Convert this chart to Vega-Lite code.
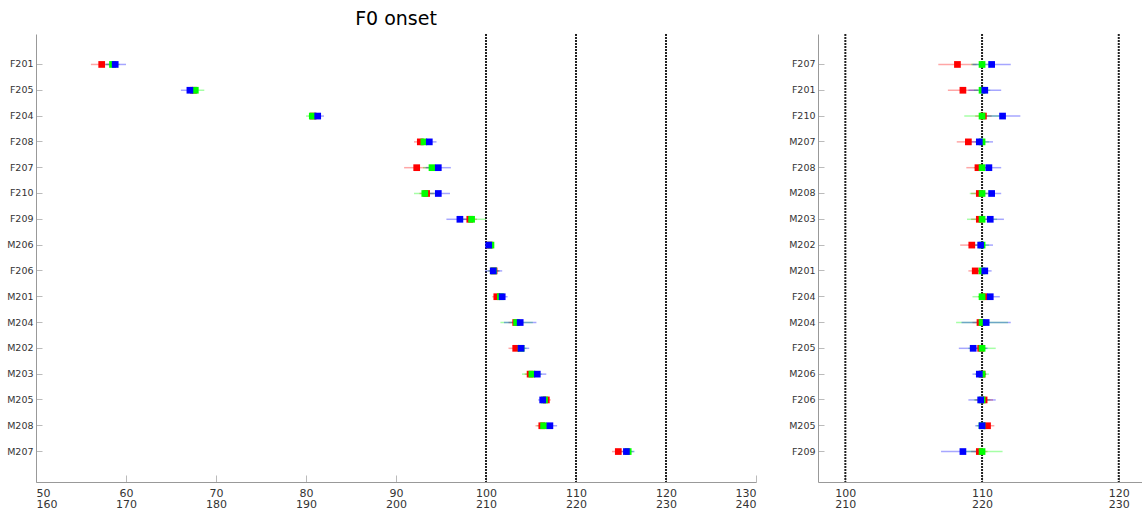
{
  "$schema": "https://vega.github.io/schema/vega-lite/v6.json",
  "background": "white",
  "padding": {"left": 6, "top": 10, "right": 0, "bottom": 0},
  "spacing": 62,
  "bounds": "flush",
  "config": {
    "view": {"stroke": null},
    "font": "DejaVu Sans",
    "axis": {
      "domainColor": "#999999",
      "tickColor": "#bbbbbb",
      "labelColor": "#333333",
      "labelFont": "DejaVu Sans",
      "labelFontSize": 9.5,
      "grid": false,
      "title": null
    }
  },
  "datasets": {
    "left": [
      {"spk": "F201", "s": "r", "v": 57.3, "lo": 56.1, "hi": 58.3},
      {"spk": "F201", "s": "g", "v": 58.5, "lo": 57.8, "hi": 59.3},
      {"spk": "F201", "s": "b", "v": 58.8, "lo": 57.7, "hi": 60.0},
      {"spk": "F205", "s": "r", "v": 67.5, "lo": 67.0, "hi": 68.0},
      {"spk": "F205", "s": "g", "v": 67.7, "lo": 66.8, "hi": 68.7},
      {"spk": "F205", "s": "b", "v": 67.1, "lo": 66.1, "hi": 67.9},
      {"spk": "F204", "s": "r", "v": 80.8, "lo": 80.3, "hi": 81.3},
      {"spk": "F204", "s": "g", "v": 80.7, "lo": 80.0, "hi": 81.4},
      {"spk": "F204", "s": "b", "v": 81.3, "lo": 80.6, "hi": 82.0},
      {"spk": "F208", "s": "r", "v": 92.7, "lo": 92.0, "hi": 93.4},
      {"spk": "F208", "s": "g", "v": 93.1, "lo": 92.4, "hi": 93.8},
      {"spk": "F208", "s": "b", "v": 93.7, "lo": 92.9, "hi": 94.5},
      {"spk": "F207", "s": "r", "v": 92.3, "lo": 90.9, "hi": 93.7},
      {"spk": "F207", "s": "g", "v": 94.0, "lo": 93.0, "hi": 95.0},
      {"spk": "F207", "s": "b", "v": 94.7, "lo": 93.3, "hi": 96.1},
      {"spk": "F210", "s": "r", "v": 93.4, "lo": 92.6, "hi": 94.2},
      {"spk": "F210", "s": "g", "v": 93.2, "lo": 92.0, "hi": 94.4},
      {"spk": "F210", "s": "b", "v": 94.7, "lo": 93.4, "hi": 96.0},
      {"spk": "F209", "s": "r", "v": 98.2, "lo": 97.4, "hi": 99.0},
      {"spk": "F209", "s": "g", "v": 98.4, "lo": 96.8, "hi": 100.0},
      {"spk": "F209", "s": "b", "v": 97.1, "lo": 95.6, "hi": 98.6},
      {"spk": "M206", "s": "r", "v": 100.4, "lo": 100.0, "hi": 100.8},
      {"spk": "M206", "s": "g", "v": 100.55, "lo": 100.2, "hi": 100.9},
      {"spk": "M206", "s": "b", "v": 100.3, "lo": 99.9, "hi": 100.7},
      {"spk": "F206", "s": "r", "v": 100.9, "lo": 100.3, "hi": 101.5},
      {"spk": "F206", "s": "g", "v": 100.85, "lo": 100.2, "hi": 101.5},
      {"spk": "F206", "s": "b", "v": 100.8, "lo": 99.9, "hi": 101.8},
      {"spk": "M201", "s": "r", "v": 101.2, "lo": 100.7, "hi": 101.7},
      {"spk": "M201", "s": "g", "v": 101.6, "lo": 101.1, "hi": 102.1},
      {"spk": "M201", "s": "b", "v": 101.8, "lo": 101.2, "hi": 102.4},
      {"spk": "M204", "s": "r", "v": 103.3, "lo": 102.5, "hi": 104.1},
      {"spk": "M204", "s": "g", "v": 103.4, "lo": 101.6, "hi": 105.2},
      {"spk": "M204", "s": "b", "v": 103.8, "lo": 102.0, "hi": 105.6},
      {"spk": "M202", "s": "r", "v": 103.3, "lo": 102.5, "hi": 104.1},
      {"spk": "M202", "s": "g", "v": 103.9, "lo": 103.3, "hi": 104.5},
      {"spk": "M202", "s": "b", "v": 103.9, "lo": 103.0, "hi": 104.8},
      {"spk": "M203", "s": "r", "v": 104.9, "lo": 104.3, "hi": 105.5},
      {"spk": "M203", "s": "g", "v": 105.1, "lo": 104.0, "hi": 106.2},
      {"spk": "M203", "s": "b", "v": 105.7, "lo": 104.7, "hi": 106.7},
      {"spk": "M205", "s": "r", "v": 106.7, "lo": 106.2, "hi": 107.2},
      {"spk": "M205", "s": "g", "v": 106.5, "lo": 106.0, "hi": 107.0},
      {"spk": "M205", "s": "b", "v": 106.3, "lo": 105.8, "hi": 106.8},
      {"spk": "M208", "s": "r", "v": 106.2, "lo": 105.5, "hi": 106.9},
      {"spk": "M208", "s": "g", "v": 106.4, "lo": 105.7, "hi": 107.1},
      {"spk": "M208", "s": "b", "v": 107.1, "lo": 106.3, "hi": 107.9},
      {"spk": "M207", "s": "r", "v": 114.7, "lo": 114.0, "hi": 115.4},
      {"spk": "M207", "s": "g", "v": 115.8, "lo": 115.2, "hi": 116.4},
      {"spk": "M207", "s": "b", "v": 115.6, "lo": 114.7, "hi": 116.5}
    ],
    "right": [
      {"spk": "F207", "s": "r", "v": 108.2, "lo": 106.8, "hi": 109.6},
      {"spk": "F207", "s": "g", "v": 110.0, "lo": 109.2, "hi": 110.8},
      {"spk": "F207", "s": "b", "v": 110.7, "lo": 109.3, "hi": 112.1},
      {"spk": "F201", "s": "r", "v": 108.6, "lo": 107.5, "hi": 109.7},
      {"spk": "F201", "s": "g", "v": 110.0, "lo": 109.4, "hi": 110.6},
      {"spk": "F201", "s": "b", "v": 110.2, "lo": 109.0, "hi": 111.4},
      {"spk": "F210", "s": "r", "v": 110.1, "lo": 109.5, "hi": 110.7},
      {"spk": "F210", "s": "g", "v": 110.0, "lo": 108.7, "hi": 111.3},
      {"spk": "F210", "s": "b", "v": 111.5, "lo": 110.2, "hi": 112.8},
      {"spk": "M207", "s": "r", "v": 109.0, "lo": 108.15, "hi": 109.85},
      {"spk": "M207", "s": "g", "v": 110.0, "lo": 109.5, "hi": 110.5},
      {"spk": "M207", "s": "b", "v": 109.8, "lo": 108.8, "hi": 110.8},
      {"spk": "F208", "s": "r", "v": 109.7, "lo": 108.85, "hi": 110.55},
      {"spk": "F208", "s": "g", "v": 110.0, "lo": 109.4, "hi": 110.6},
      {"spk": "F208", "s": "b", "v": 110.5, "lo": 109.6, "hi": 111.4},
      {"spk": "M208", "s": "r", "v": 109.8, "lo": 109.2, "hi": 110.4},
      {"spk": "M208", "s": "g", "v": 110.0, "lo": 109.1, "hi": 110.9},
      {"spk": "M208", "s": "b", "v": 110.7, "lo": 109.9, "hi": 111.4},
      {"spk": "M203", "s": "r", "v": 109.8, "lo": 109.2, "hi": 110.4},
      {"spk": "M203", "s": "g", "v": 110.0, "lo": 108.9, "hi": 111.1},
      {"spk": "M203", "s": "b", "v": 110.6, "lo": 109.6, "hi": 111.6},
      {"spk": "M202", "s": "r", "v": 109.25, "lo": 108.4, "hi": 110.1},
      {"spk": "M202", "s": "g", "v": 110.0, "lo": 109.5, "hi": 110.5},
      {"spk": "M202", "s": "b", "v": 109.9, "lo": 109.0, "hi": 110.8},
      {"spk": "M201", "s": "r", "v": 109.5, "lo": 109.0, "hi": 110.0},
      {"spk": "M201", "s": "g", "v": 110.0, "lo": 109.6, "hi": 110.4},
      {"spk": "M201", "s": "b", "v": 110.2, "lo": 109.7, "hi": 110.7},
      {"spk": "F204", "s": "r", "v": 110.15, "lo": 109.7, "hi": 110.6},
      {"spk": "F204", "s": "g", "v": 110.0, "lo": 109.3, "hi": 110.7},
      {"spk": "F204", "s": "b", "v": 110.6, "lo": 109.9, "hi": 111.3},
      {"spk": "M204", "s": "r", "v": 109.85, "lo": 109.3, "hi": 110.4},
      {"spk": "M204", "s": "g", "v": 110.0, "lo": 108.1, "hi": 111.9},
      {"spk": "M204", "s": "b", "v": 110.3, "lo": 108.5, "hi": 112.1},
      {"spk": "F205", "s": "r", "v": 109.9, "lo": 109.5, "hi": 110.3},
      {"spk": "F205", "s": "g", "v": 110.0, "lo": 109.0, "hi": 111.0},
      {"spk": "F205", "s": "b", "v": 109.35, "lo": 108.3, "hi": 110.4},
      {"spk": "M206", "s": "r", "v": 110.0, "lo": 109.7, "hi": 110.3},
      {"spk": "M206", "s": "g", "v": 110.0, "lo": 109.5, "hi": 110.5},
      {"spk": "M206", "s": "b", "v": 109.8, "lo": 109.3, "hi": 110.3},
      {"spk": "F206", "s": "r", "v": 110.15, "lo": 109.5, "hi": 110.8},
      {"spk": "F206", "s": "g", "v": 110.0, "lo": 109.4, "hi": 110.6},
      {"spk": "F206", "s": "b", "v": 109.9, "lo": 109.0, "hi": 111.0},
      {"spk": "M205", "s": "r", "v": 110.4, "lo": 109.9, "hi": 110.9},
      {"spk": "M205", "s": "g", "v": 110.0, "lo": 109.6, "hi": 110.4},
      {"spk": "M205", "s": "b", "v": 110.0, "lo": 109.5, "hi": 110.5},
      {"spk": "F209", "s": "r", "v": 109.8, "lo": 109.2, "hi": 110.4},
      {"spk": "F209", "s": "g", "v": 110.0, "lo": 108.5, "hi": 111.5},
      {"spk": "F209", "s": "b", "v": 108.6, "lo": 107.0, "hi": 110.2}
    ],
    "refs": [{"x": 100}, {"x": 110}, {"x": 120}]
  },
  "hconcat": [
    {
      "width": 720,
      "height": 448,
      "title": {"text": "F0 onset", "fontSize": 19, "fontWeight": "normal", "color": "black", "font": "DejaVu Sans", "offset": 4},
      "layer": [
        {
          "data": {"name": "refs"},
          "mark": {"type": "rule", "strokeDash": [2, 1], "strokeWidth": 2, "color": "#222222"},
          "encoding": {
            "x": {"field": "x", "type": "quantitative", "scale": {"domain": [50, 130], "nice": false, "zero": false},
              "axis": {"values": [50, 60, 70, 80, 90, 100, 110, 120, 130], "tickSize": -7, "labelPadding": 12, "labelExpr": "[datum.label, '' + (datum.value + 110)]", "labelLineHeight": 11, "labelFontSize": 11, "labelColor": "#333333"}}
          }
        },
        {
          "data": {"name": "left"},
          "mark": {"type": "rule", "strokeWidth": 1.5, "opacity": 0.35},
          "encoding": {
            "y": {"field": "spk", "type": "nominal", "scale": {"type": "band", "paddingInner": 0, "paddingOuter": 0.68, "domain": ["F201","F205","F204","F208","F207","F210","F209","M206","F206","M201","M204","M202","M203","M205","M208","M207"]}, "axis": {"tickSize": -6, "labelPadding": 9}},
            "x": {"field": "lo", "type": "quantitative"},
            "x2": {"field": "hi"},
            "color": {"field": "s", "type": "nominal", "scale": {"domain": ["r", "g", "b"], "range": ["#ff0000", "#00ff00", "#0000ff"]}, "legend": null}
          }
        },
        {
          "data": {"name": "left"},
          "mark": {"type": "point", "shape": "square", "filled": true, "size": 45, "opacity": 1},
          "encoding": {
            "y": {"field": "spk", "type": "nominal"},
            "x": {"field": "v", "type": "quantitative"},
            "color": {"field": "s", "type": "nominal", "legend": null}
          }
        }
      ]
    },
    {
      "width": 324,
      "height": 448,
      "layer": [
        {
          "data": {"name": "refs"},
          "mark": {"type": "rule", "strokeDash": [2, 1], "strokeWidth": 2, "color": "#222222"},
          "encoding": {
            "x": {"field": "x", "type": "quantitative", "scale": {"domain": [98, 121.7], "nice": false, "zero": false},
              "axis": {"values": [100, 110, 120], "tickSize": -7, "labelPadding": 12, "labelExpr": "[datum.label, '' + (datum.value + 110)]", "labelLineHeight": 11, "labelFontSize": 11, "labelColor": "#333333"}}
          }
        },
        {
          "data": {"name": "right"},
          "mark": {"type": "rule", "strokeWidth": 1.5, "opacity": 0.35},
          "encoding": {
            "y": {"field": "spk", "type": "nominal", "scale": {"type": "band", "paddingInner": 0, "paddingOuter": 0.68, "domain": ["F207","F201","F210","M207","F208","M208","M203","M202","M201","F204","M204","F205","M206","F206","M205","F209"]}, "axis": {"tickSize": -6, "labelPadding": 9}},
            "x": {"field": "lo", "type": "quantitative"},
            "x2": {"field": "hi"},
            "color": {"field": "s", "type": "nominal", "scale": {"domain": ["r", "g", "b"], "range": ["#ff0000", "#00ff00", "#0000ff"]}, "legend": null}
          }
        },
        {
          "data": {"name": "right"},
          "mark": {"type": "point", "shape": "square", "filled": true, "size": 45, "opacity": 1},
          "encoding": {
            "y": {"field": "spk", "type": "nominal"},
            "x": {"field": "v", "type": "quantitative"},
            "color": {"field": "s", "type": "nominal", "legend": null}
          }
        }
      ]
    }
  ],
  "resolve": {"scale": {"x": "independent", "y": "independent", "color": "shared"}}
}
